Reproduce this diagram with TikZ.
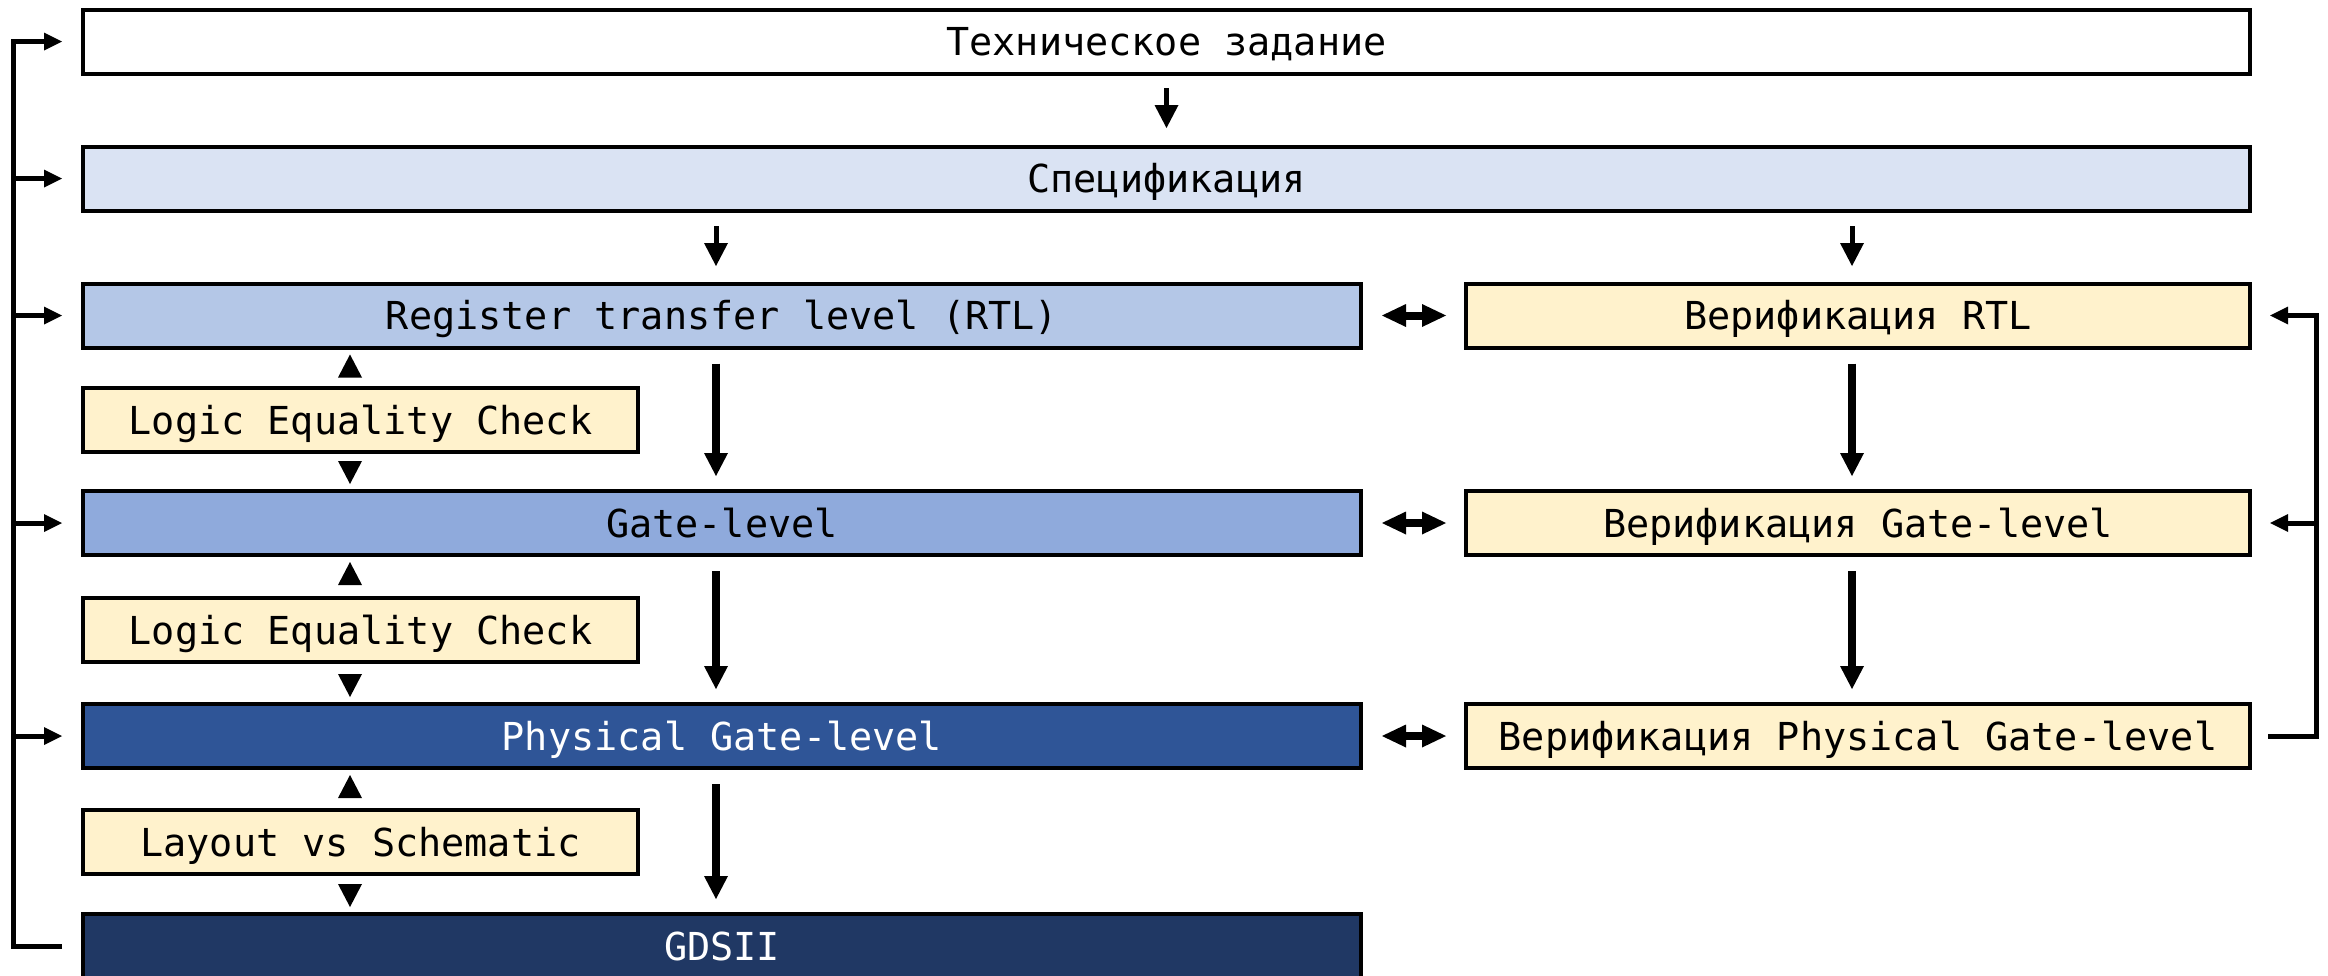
\documentclass[tikz,border=0pt]{standalone}
\usepackage{fontspec}
\setmonofont{DejaVu Sans Mono}
\usetikzlibrary{arrows.meta}
\definecolor{cSpec}{HTML}{DAE3F3}
\definecolor{cRTL}{HTML}{B4C7E7}
\definecolor{cGate}{HTML}{8FAADC}
\definecolor{cPhys}{HTML}{2F5597}
\definecolor{cGDS}{HTML}{203864}
\definecolor{cYel}{HTML}{FFF2CC}
\begin{document}
\begin{tikzpicture}[x=0.5pt,y=-0.5pt,
  box/.style={draw=black, line width=2pt, rectangle, minimum height=32pt,
    inner sep=0pt, outer sep=0pt, font=\fontsize{19.25}{22}\selectfont\ttfamily,
    text height=14pt, text depth=0pt},
  wide/.style={box, minimum width=1083.5pt},
  lcol/.style={box, minimum width=639pt},
  rcol/.style={box, minimum width=392pt, fill=cYel},
  chk/.style={box, minimum width=277.5pt, fill=cYel, line width=1.8pt},
  flowS/.style={line width=2.5pt, -{Triangle[length=11.5pt,width=12pt,line width=0pt]}},
  flowL/.style={line width=4pt, -{Triangle[length=11.5pt,width=12pt,line width=0pt]},
    shorten <=8pt, shorten >=7.5pt},
  tri/.style={draw=white, line width=0.1pt,
    -{Triangle[length=11.5pt,width=12pt,line width=0pt,color=black,fill=black]},
    shorten <=4pt, shorten >=3.5pt},
  dbl/.style={line width=4pt, {Triangle[length=12pt,width=11.5pt,line width=0pt]}-{Triangle[length=12pt,width=11.5pt,line width=0pt]},
    shorten <=10.5pt, shorten >=10pt},
  fb/.style={line width=2.5pt},
  fbtip/.style={-{Triangle[length=9pt,width=9pt,line width=0pt]}}
]
\useasboundingbox (0,0) rectangle (2328,975);

% main column
\node[wide] (top) at (1166.5,41.5) {Техническое задание};
\node[wide, fill=cSpec] (spec) at (1166.5,178.5) {Спецификация};
\node[lcol, fill=cRTL] (rtl) at (722,315.5) {Register transfer level (RTL)};
\node[lcol, fill=cGate] (gate) at (722,523) {Gate-level};
\node[lcol, fill=cPhys, text=white] (phys) at (722,736) {Physical Gate-level};
\node[lcol, fill=cGDS, text=white] (gds) at (722,946) {GDSII};

% checks
\node[chk] (lec1) at (360.5,420) {Logic Equality Check};
\node[chk] (lec2) at (360.5,630) {Logic Equality Check};
\node[chk] (lvs) at (360.5,842) {Layout vs Schematic};

% verification column
\node[rcol] (vrtl) at (1858,315.5) {Верификация RTL};
\node[rcol] (vgate) at (1858,523) {Верификация Gate-level};
\node[rcol] (vphys) at (1858,736) {Верификация Physical Gate-level};

% helper x positions
\coordinate (cl) at (716,0);
\coordinate (cr) at (1852,0);
\coordinate (ct) at (350,0);
\coordinate (lx) at (13.5,0);
\coordinate (rx) at (2316,0);

% short arrows
\draw[flowS, shorten <=7.25pt, shorten >=9.25pt] (top.south) -- (spec.north);
\draw[flowS, shorten <=7.75pt, shorten >=8.75pt] (spec.south -| cl) -- (rtl.north -| cl);
\draw[flowS, shorten <=7.75pt, shorten >=8.75pt] (spec.south -| cr) -- (vrtl.north -| cr);

% long arrows
\draw[flowL] (rtl.south -| cl) -- (gate.north -| cl);
\draw[flowL] (gate.south -| cl) -- (phys.north -| cl);
\draw[flowL] (phys.south -| cl) -- (gds.north -| cl);
\draw[flowL] (vrtl.south -| cr) -- (vgate.north -| cr);
\draw[flowL] (vgate.south -| cr) -- (vphys.north -| cr);

% check triangles
\draw[tri] (lec1.north -| ct) -- (rtl.south -| ct);
\draw[tri] (lec1.south -| ct) -- (gate.north -| ct);
\draw[tri] (lec2.north -| ct) -- (gate.south -| ct);
\draw[tri] (lec2.south -| ct) -- (phys.north -| ct);
\draw[tri] (lvs.north -| ct) -- (phys.south -| ct);
\draw[tri] (lvs.south -| ct) -- (gds.north -| ct);

% double arrows
\draw[dbl] (rtl.east) -- (vrtl.west);
\draw[dbl] (gate.east) -- (vgate.west);
\draw[dbl] (phys.east) -- (vphys.west);

% left feedback
\draw[fb, fbtip, shorten >=10.5pt] ([xshift=-10.5pt]gds.west) -| (lx |- top.west) -- (top.west);
\foreach \n in {spec,rtl,gate,phys}
  \draw[fb, fbtip, shorten >=10.5pt] (lx |- \n.west) -- (\n.west);

% right feedback
\draw[fb, fbtip, shorten >=10pt] ([xshift=9pt]vphys.east) -| (rx |- vrtl.east) -- (vrtl.east);
\draw[fb, fbtip, shorten >=10pt] (rx |- vgate.east) -- (vgate.east);
\end{tikzpicture}
\end{document}
